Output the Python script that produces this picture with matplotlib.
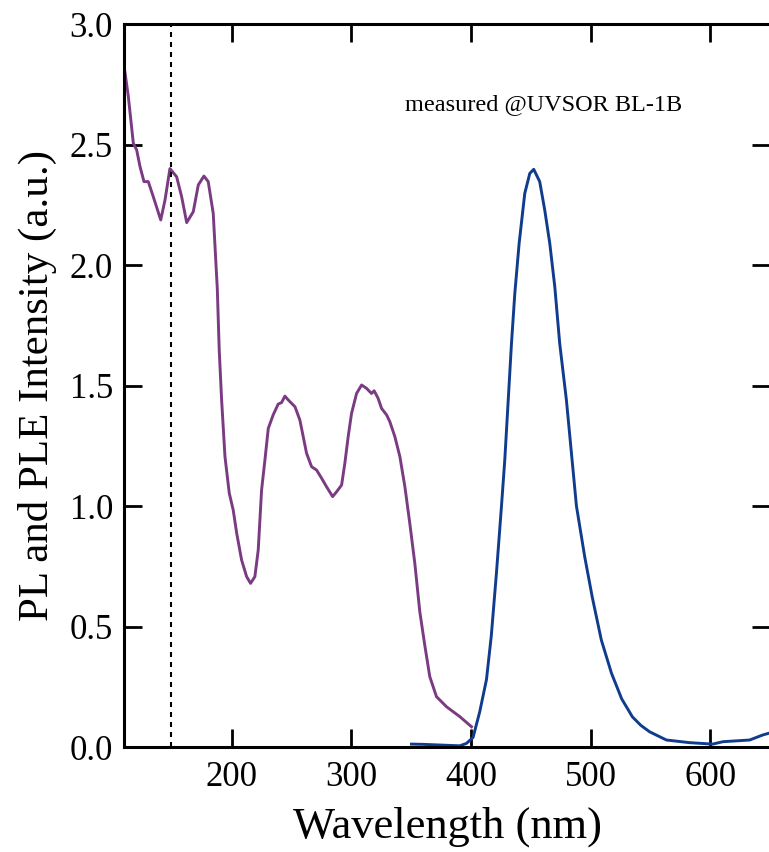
import matplotlib.pyplot as plt

# PLE spectrum (excitation)
ple_wl = [110.8, 113.6, 117.8, 120.6, 123.4, 126.7, 130.3, 134.5, 140.7, 144.3,
          148.4, 154.0, 158.2, 162.4, 167.9, 172.1, 176.8, 180.4, 184.6, 188.0,
          189.6, 191.6, 194.4, 198.0, 201.3, 204.2, 208.3, 212.5, 215.8, 219.4,
          222.2, 225.0, 227.8, 230.6, 234.7, 238.9, 241.7, 244.5, 247.3, 252.9,
          257.0, 259.8, 262.6, 266.8, 271.0, 275.2, 279.3, 284.4, 287.7, 291.9,
          294.6, 297.4, 300.2, 304.4, 308.6, 312.8, 316.9, 319.1, 322.4, 325.3,
          329.5, 332.2, 336.4, 340.6, 344.8, 348.9, 353.1, 357.3, 361.5, 365.6,
          371.2, 379.6, 390.7, 400.5]
ple_int = [2.80, 2.70, 2.505, 2.477, 2.408, 2.346, 2.346, 2.283, 2.187, 2.27,
           2.40, 2.366, 2.283, 2.176, 2.221, 2.332, 2.369, 2.346, 2.214, 1.90,
           1.647, 1.44, 1.205, 1.053, 0.983, 0.887, 0.776, 0.707, 0.679, 0.707,
           0.817, 1.066, 1.191, 1.322, 1.378, 1.423, 1.429, 1.456, 1.44, 1.412,
           1.357, 1.288, 1.219, 1.163, 1.149, 1.115, 1.080, 1.039, 1.059, 1.087,
           1.177, 1.288, 1.384, 1.467, 1.502, 1.488, 1.467, 1.478, 1.447, 1.405,
           1.378, 1.35, 1.288, 1.205, 1.080, 0.928, 0.762, 0.56, 0.42, 0.292,
           0.209, 0.167, 0.126, 0.084]

# PL spectrum (emission)
pl_wl = [350.3, 360, 370, 380, 390.7, 396.3, 401.8, 407.4, 413.0, 417.0,
         421.3, 425.5, 428.3, 433.9, 436.7, 440.3, 445.0, 449.2, 452.5, 457.5,
         461.7, 465.9, 470.1, 474.2, 479.8, 484.0, 488.2, 495.1, 501.5,
         509.0, 517.5, 526.0, 535.0, 542.0, 549.4, 563.4, 582.8, 602.0, 610.7,
         633.0, 644.0, 649.0]
pl_int = [0.012, 0.011, 0.009, 0.007, 0.005, 0.015, 0.04, 0.147, 0.28, 0.46,
          0.72, 0.997, 1.191, 1.675, 1.883, 2.09, 2.297, 2.38, 2.397, 2.346,
          2.228, 2.09, 1.91, 1.675, 1.44, 1.22, 1.0, 0.79, 0.62,
          0.444, 0.306, 0.20, 0.125, 0.09, 0.063, 0.029, 0.018, 0.012, 0.022,
          0.029, 0.05, 0.057]

x_ticks = [200, 300, 400, 500, 600]
y_ticks = [0.0, 0.5, 1.0, 1.5, 2.0, 2.5, 3.0]
excite_line = 149

plt.rcParams['font.family'] = ['Liberation Serif', 'DejaVu Serif']

fig = plt.figure(figsize=(7.69, 8.52), dpi=100)
ax = fig.add_axes([124 / 769, 1 - 747 / 852, 646 / 769, 723 / 852])

ax.plot(ple_wl, ple_int, color='#7a3b82', lw=2.1)
ax.plot(pl_wl, pl_int, color='#0f3c8c', lw=2.1)
ax.axvline(excite_line, color='black', lw=1.5, linestyle=(0, (2.4, 2.4)))

ax.set_xlim(110, 650)
ax.set_ylim(0, 3.0)
ax.set_xticks(x_ticks)
ax.set_yticks(y_ticks)
ax.set_yticklabels([f'{v:.1f}' for v in y_ticks])
ax.tick_params(direction='in', length=13, width=2, labelsize=25,
               top=True, right=True)
ax.tick_params(axis='x', pad=10)
ax.tick_params(axis='y', pad=8)
for s in ax.spines.values():
    s.set_linewidth(2.2)

ax.set_xlabel('Wavelength (nm)', fontsize=32, labelpad=9)
ax.set_ylabel('PL and PLE Intensity (a.u.)', fontsize=31, labelpad=9)
ax.text(344.8, 2.643, 'measured @UVSOR BL-1B', fontsize=17.5)

fig.savefig('out.png', dpi=100)
